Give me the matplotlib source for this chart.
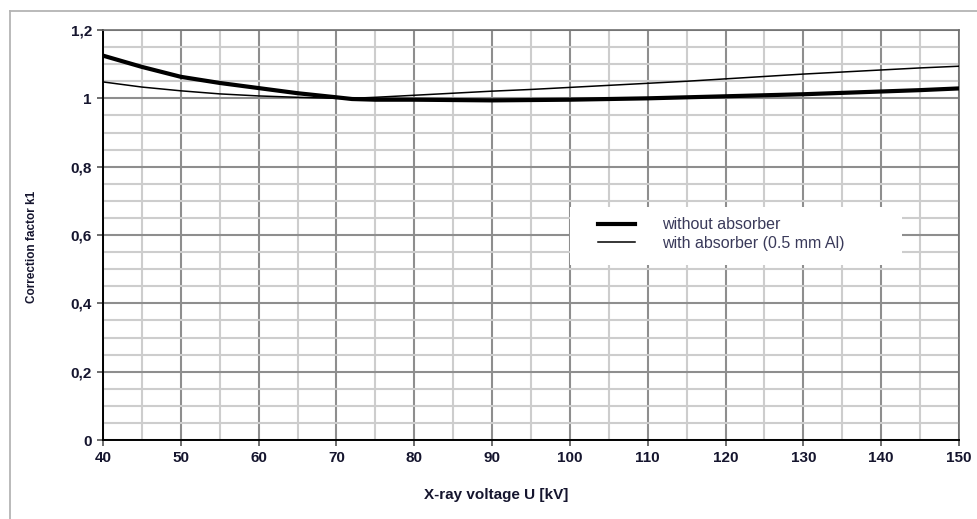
import matplotlib
matplotlib.use("Agg")
import matplotlib.pyplot as plt
from matplotlib.ticker import MultipleLocator, FuncFormatter
from matplotlib.lines import Line2D
from matplotlib.patches import Rectangle

# X-ray voltage in kV
voltage = [40, 45, 50, 55, 60, 65, 70, 72, 75, 80, 85, 90, 95, 100,
           105, 110, 115, 120, 125, 130, 135, 140, 145, 150]
# correction factor k1
k1_without = [1.125, 1.092, 1.063, 1.045, 1.030, 1.015, 1.003, 0.998, 0.996, 0.996,
              0.995, 0.994, 0.995, 0.996, 0.998, 1.000, 1.003, 1.006, 1.009, 1.012,
              1.016, 1.020, 1.024, 1.029]
k1_with = [1.048, 1.033, 1.022, 1.013, 1.007, 1.003, 1.000, 1.000, 1.003, 1.009,
           1.015, 1.021, 1.026, 1.032, 1.038, 1.044, 1.050, 1.057, 1.064, 1.071,
           1.077, 1.083, 1.089, 1.094]
labels = ["without absorber", "with absorber (0.5 mm Al)"]

plt.rcParams['font.family'] = ['Liberation Sans', 'DejaVu Sans']
txt = "#15152e"

fig = plt.figure(figsize=(9.78, 5.19), dpi=100)
ax = fig.add_axes([103 / 978, 1 - 440 / 519, 856 / 978, 410 / 519])

# outer frame of the original page (cropped at right and bottom)
fig.add_artist(Line2D([10 / 978, 1], [1 - 11 / 519, 1 - 11 / 519], color="#b4b4b4", lw=1.3))
fig.add_artist(Line2D([10 / 978, 10 / 978], [0, 1 - 11 / 519], color="#b4b4b4", lw=1.3))

ax.plot(voltage, k1_without, color="black", lw=3.0, label=labels[0], zorder=4)
ax.plot(voltage, k1_with, color="black", lw=1.1, label=labels[1], zorder=4)

ax.set_xlim(40, 150)
ax.set_ylim(0, 1.2)
ax.xaxis.set_major_locator(MultipleLocator(10))
ax.xaxis.set_minor_locator(MultipleLocator(5))
ax.yaxis.set_major_locator(MultipleLocator(0.2))
ax.yaxis.set_minor_locator(MultipleLocator(0.05))

ax.grid(which="minor", color="#cdcdcd", lw=1.5, zorder=1)
ax.grid(which="major", color="#8e8e8e", lw=1.5, zorder=2)
ax.set_axisbelow(True)

def comma(v, pos):
    s = "%g" % round(v, 2)
    return s.replace(".", ",")

ax.yaxis.set_major_formatter(FuncFormatter(comma))
ax.tick_params(which="major", length=4, width=1.2, colors="#555555", labelcolor=txt, labelsize=11, pad=4)
ax.tick_params(which="minor", length=0)
for lab in ax.get_xticklabels() + ax.get_yticklabels():
    lab.set_fontweight("bold")

for side in ["left", "bottom"]:
    ax.spines[side].set_color("black")
    ax.spines[side].set_linewidth(1.4)
for side in ["top", "right"]:
    ax.spines[side].set_color("#707070")
    ax.spines[side].set_linewidth(1.2)

ax.set_xlabel("X-ray voltage U [kV]", fontsize=11, fontweight="bold", color=txt)
ax.xaxis.set_label_coords(0.459, -0.118)
ax.set_ylabel("Correction factor k1", fontsize=8.5, fontweight="bold", color=txt)
ax.yaxis.set_label_coords(-0.076, 0.47)

# white box behind the legend
ax.add_patch(Rectangle((0.546, 0.427), 0.387, 0.141, transform=ax.transAxes,
                       facecolor="white", edgecolor="none", zorder=3))
leg = ax.legend(loc="upper left", bbox_to_anchor=(0.578, 0.543), frameon=False,
                fontsize=11.5, handlelength=2.3, handletextpad=1.7,
                borderpad=0, borderaxespad=0, labelspacing=0.2)
for t in leg.get_texts():
    t.set_color("#3a3a5a")
leg.set_zorder(5)

fig.savefig("out.png", dpi=100)
